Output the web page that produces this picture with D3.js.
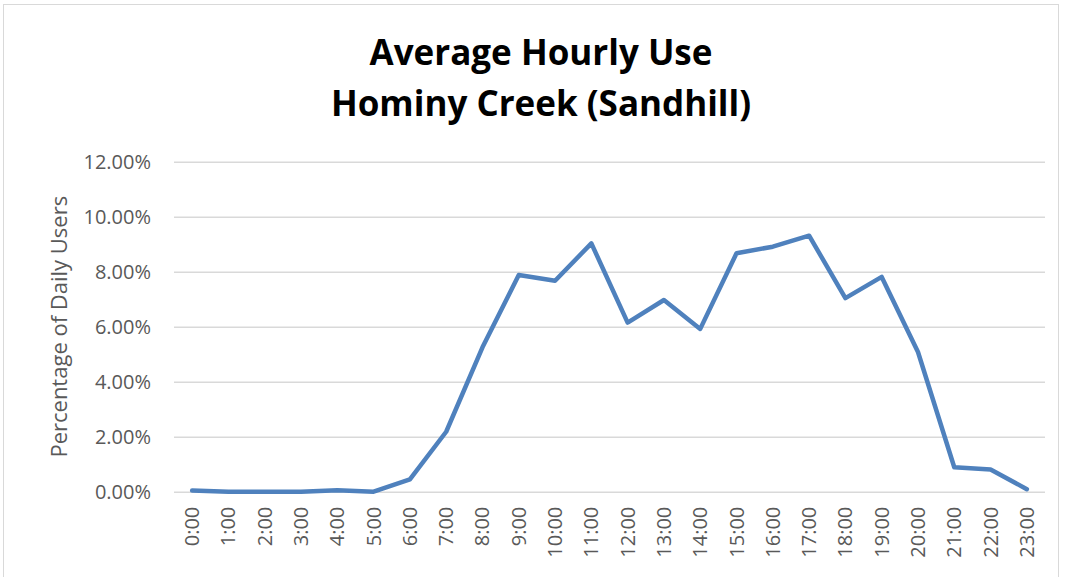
<!DOCTYPE html>
<html>
<head>
<meta charset="utf-8">
<script src="https://cdn.jsdelivr.net/npm/d3@7"></script>
<style>
  body { margin: 0; background: #fff; }
  svg { display: block; }
</style>
</head>
<body>
<div id="chart"></div>
<script>
// hours of the day
var hours = ["0:00", "1:00", "2:00", "3:00", "4:00", "5:00", "6:00", "7:00", "8:00", "9:00", "10:00", "11:00",
  "12:00", "13:00", "14:00", "15:00", "16:00", "17:00", "18:00", "19:00", "20:00", "21:00", "22:00", "23:00"];

// share of daily users, in percent
var usage = [0.04, 0.0, 0.0, 0.0, 0.05, 0.0, 0.45, 2.18, 5.25, 7.88, 7.67, 9.03,
  6.15, 6.97, 5.92, 8.67, 8.91, 9.31, 7.04, 7.81, 5.08, 0.89, 0.81, 0.09];

var yTicks = [0, 2, 4, 6, 8, 10, 12];
var titleLines = ["Average Hourly Use", "Hominy Creek (Sandhill)"];
var yTitle = "Percentage of Daily Users";

var width = 1066;
var height = 577;
var plot = {left: 174, right: 1045, top: 161.7, bottom: 491.7};

var svg = d3.select("#chart").append("svg")
  .attr("width", width)
  .attr("height", height);

// chart frame
svg.append("rect")
  .attr("x", 3.5).attr("y", 4.5)
  .attr("width", 1055).attr("height", 600)
  .attr("fill", "none")
  .attr("stroke", "#d9d9d9")
  .attr("stroke-width", 1);

/* Scales */
var xScale = d3.scaleBand()
  .domain(hours)
  .range([plot.left, plot.right]);

var yScale = d3.scaleLinear()
  .domain([0, 12])
  .range([plot.bottom, plot.top]);

/* Gridlines + y axis labels */
var yAxis = d3.axisLeft(yScale)
  .tickValues(yTicks)
  .tickSize(-(plot.right - plot.left))
  .tickPadding(23)
  .tickFormat(d => d.toFixed(2) + "%");

var gy = svg.append("g")
  .attr("class", "y axis")
  .attr("transform", `translate(${plot.left}, 0)`)
  .call(yAxis);

gy.select(".domain").remove();
gy.selectAll(".tick line")
  .attr("stroke", "#d9d9d9")
  .attr("stroke-width", 1.5);
gy.selectAll(".tick text")
  .attr("fill", "#595959")
  .style("font-family", "'Open Sans', sans-serif")
  .style("font-size", "20px");

/* x axis labels */
var xAxis = d3.axisBottom(xScale).tickSize(0).tickPadding(0);

var gx = svg.append("g")
  .attr("class", "x axis")
  .attr("transform", `translate(0, ${plot.bottom})`)
  .call(xAxis);

gx.select(".domain").remove();
gx.selectAll(".tick text")
  .attr("fill", "#595959")
  .style("font-family", "'Open Sans', sans-serif")
  .style("font-size", "20px")
  .attr("text-anchor", "end")
  .attr("dy", "0.35em")
  .attr("transform", "translate(0, 15) rotate(-90)")
  .attr("x", 0)
  .attr("y", 0);

/* Line */
var line = d3.line()
  .x((d, i) => xScale(hours[i]) + xScale.bandwidth() / 2)
  .y(d => yScale(d));

svg.append("path")
  .datum(usage)
  .attr("class", "line")
  .attr("d", line)
  .attr("fill", "none")
  .attr("stroke", "#4f81bd")
  .attr("stroke-width", 4.5)
  .attr("stroke-linejoin", "round")
  .attr("stroke-linecap", "round");

/* Titles */
svg.append("g")
  .selectAll("text")
  .data(titleLines).enter()
  .append("text")
  .attr("x", 541)
  .attr("y", (d, i) => 65 + i * 51)
  .attr("text-anchor", "middle")
  .attr("fill", "#000")
  .style("font-family", "'Open Sans', sans-serif")
  .style("font-weight", "bold")
  .style("font-size", "35px")
  .text(d => d);

svg.append("text")
  .attr("transform", `translate(67, ${(plot.top + plot.bottom) / 2}) rotate(-90)`)
  .attr("text-anchor", "middle")
  .attr("fill", "#595959")
  .style("font-family", "'Open Sans', sans-serif")
  .style("font-size", "22px")
  .text(yTitle);
</script>
</body>
</html>
